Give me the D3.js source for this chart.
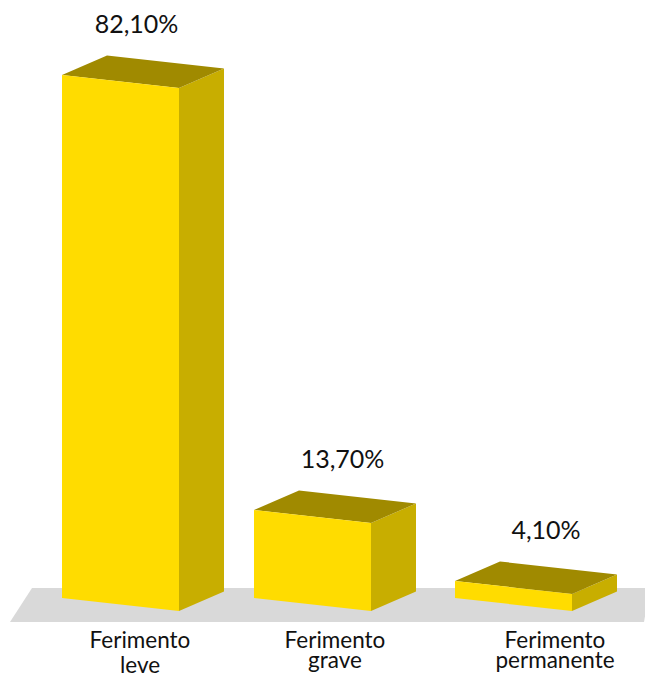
<!DOCTYPE html>
<html><head><meta charset="utf-8">
<style>html,body{margin:0;padding:0;background:#fff;overflow:hidden}svg{display:block}
text{font-family:Lato,"Open Sans",sans-serif;fill:#111}</style>
<script src="https://cdn.jsdelivr.net/npm/d3@7"></script></head><body>
<svg id="c" width="645" height="673"></svg>
<script>
const categories = ["Ferimento leve","Ferimento grave","Ferimento permanente"];
const categoryLines = [["Ferimento","leve"],["Ferimento","grave"],["Ferimento","permanente"]];
const values = [82.1,13.7,4.1];
const valueLabels = ["82,10%","13,70%","4,10%"];

const W=645,H=673,barW=117,dx=45,dy=-19.5,skew=13;
const svg=d3.select("#c");
const x=d3.scaleOrdinal().domain(categories).range([62,254,455]);
const labelX=d3.scaleOrdinal().domain(categories).range([140,335,555]);
const valueX=d3.scaleOrdinal().domain(categories).range([136.5,342.5,546]);
// the drawn heights in the reference are not proportional, so the scale has knots at each value
const y=d3.scaleLinear().domain([0,4.1,13.7,82.1]).range([598,581,510,75]);
const line=d3.line();

svg.append("path").attr("fill","#d9d9d9")
  .attr("d",line([[32,588],[W+5,588],[W-1,622],[10,622]])+"Z");

const g=svg.selectAll("g.bar").data(categories).join("g").attr("class","bar");
g.each(function(c,i){
  const s=d3.select(this),l=x(c),r=l+barW,t=y(values[i]),b=y(0);
  s.append("path").attr("fill","#c8ae00")
    .attr("d",line([[r,t+skew],[r+dx,t+skew+dy],[r+dx,b+skew+dy],[r,b+skew]])+"Z");
  s.append("path").attr("fill","#a08a00")
    .attr("d",line([[l,t],[l+dx,t+dy],[r+dx,t+skew+dy],[r,t+skew]])+"Z");
  s.append("path").attr("fill","#ffdc00")
    .attr("d",line([[l,t],[r,t+skew],[r,b+skew],[l,b]])+"Z");
  s.append("text").attr("x",valueX(c)).attr("y",t-42).attr("text-anchor","middle")
    .attr("font-size",25).text(valueLabels[i]);
  s.selectAll("text.cat").data(categoryLines[i]).join("text").attr("class","cat")
    .attr("x",labelX(c)).attr("y",(d,j)=>648+j*(i==0?25:20)).attr("text-anchor","middle")
    .attr("font-size",22.5).text(d=>d);
});
</script></body></html>
